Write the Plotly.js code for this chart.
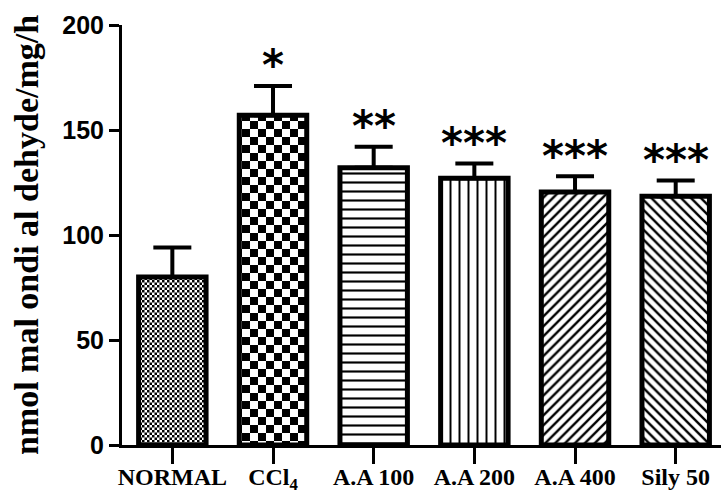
<!DOCTYPE html>
<html>
<head>
<meta charset="utf-8">
<script src="https://cdn.plot.ly/plotly-3.0.1.min.js"></script>
<style>
  html, body { margin: 0; padding: 0; background: #ffffff; }
  #chart { width: 721px; height: 495px; }
</style>
</head>
<body>
<div id="chart"></div>
<script>
// ---- data ----
var categories = ["NORMAL", "CCl<sub>4</sub>", "A.A 100", "A.A 200", "A.A 400", "Sily 50"];
var meanValues = [80, 157, 132, 127, 120.5, 118.5];
var semValues  = [14, 14, 10, 7, 7.5, 7.5];
var sigLabels  = ["", "*", "**", "***", "***", "***"];
var yTickValues = [0, 50, 100, 150, 200];
var yTitle = "nmol mal ondi al dehyde/mg/h";

// ---- styles ----
var patternShapes = ["", "", "-", "|", "/", "\\"];
var patternSizes  = [8, 8, 9, 9, 7, 7];
var patternSolid  = [0.3, 0.3, 0.24, 0.22, 0.34, 0.34];

var xIdx = categories.map(function (_, i) { return i; });

var barTrace = {
  type: "bar",
  x: xIdx,
  y: meanValues,
  width: 0.67,
  marker: {
    color: "#ffffff",
    line: { color: "#000000", width: 5 },
    pattern: {
      shape: patternShapes,
      size: patternSizes,
      solidity: patternSolid,
      fgcolor: "#000000",
      bgcolor: "#ffffff",
      fgopacity: 1
    }
  },
  error_y: {
    type: "data",
    symmetric: false,
    array: semValues,
    arrayminus: semValues.map(function () { return 0; }),
    color: "#000000",
    thickness: 4,
    width: 19
  },
  hoverinfo: "none"
};

var annotations = sigLabels.map(function (lab, i) {
  return {
    x: xIdx[i],
    y: meanValues[i] + semValues[i],
    xref: "x", yref: "y",
    text: lab,
    showarrow: false,
    xanchor: "center",
    yanchor: "middle",
    yshift: 20,
    font: { family: "DejaVu Sans", size: 42, color: "#000000", weight: "bold" }
  };
}).filter(function (a) { return a.text !== ""; });

var layout = {
  width: 721,
  height: 495,
  margin: { l: 122, r: 0, t: 25, b: 50, pad: 0 },
  paper_bgcolor: "#ffffff",
  plot_bgcolor: "#ffffff",
  showlegend: false,
  xaxis: {
    range: [-0.5, 5.45],
    tickmode: "array",
    tickvals: xIdx,
    ticktext: categories,
    ticks: "outside",
    ticklen: 16,
    tickwidth: 3,
    tickcolor: "#000000",
    showline: true,
    linecolor: "#000000",
    linewidth: 3,
    showgrid: false,
    zeroline: false,
    ticklabelstandoff: -8,
    tickfont: { family: "Liberation Serif", size: 24, color: "#000000", weight: "bold" },
    fixedrange: true
  },
  yaxis: {
    range: [0, 200],
    tickmode: "array",
    tickvals: yTickValues,
    ticktext: yTickValues.map(String),
    ticks: "outside",
    ticklen: 10,
    tickwidth: 3,
    tickcolor: "#000000",
    showline: true,
    linecolor: "#000000",
    linewidth: 3,
    showgrid: false,
    zeroline: false,
    tickfont: { family: "Liberation Sans", size: 25, color: "#000000", weight: "bold" },
    title: {
      text: yTitle,
      standoff: 14,
      font: { family: "Liberation Serif", size: 34, color: "#000000", weight: "bold" }
    },
    automargin: false,
    fixedrange: true
  },
  annotations: annotations
};

Plotly.newPlot("chart", [barTrace], layout, { staticPlot: true, displayModeBar: false }).then(function (gd) {
  try {
    var ns = "http://www.w3.org/2000/svg";
    var svg = gd.querySelector("svg.main-svg");
    var defs = svg.querySelector("defs");
    function mk(tag, attrs) {
      var el = document.createElementNS(ns, tag);
      for (var k in attrs) el.setAttribute(k, attrs[k]);
      return el;
    }
    function addChecker(id, s) {
      var p = mk("pattern", { id: id, patternUnits: "userSpaceOnUse", width: 2 * s, height: 2 * s });
      p.appendChild(mk("rect", { x: 0, y: 0, width: 2 * s, height: 2 * s, fill: "#ffffff" }));
      p.appendChild(mk("rect", { x: 0, y: 0, width: s, height: s, fill: "#000000" }));
      p.appendChild(mk("rect", { x: s, y: s, width: s, height: s, fill: "#000000" }));
      defs.appendChild(p);
    }
    addChecker("chkFine", 2.5);
    addChecker("chkCoarse", 8);
    var paths = gd.querySelectorAll(".barlayer .trace .point path");
    if (paths.length >= 2) {
      paths[0].style.fill = "url(#chkFine)";
      paths[1].style.fill = "url(#chkCoarse)";
    }
  } catch (e) { }
});
</script>
</body>
</html>
